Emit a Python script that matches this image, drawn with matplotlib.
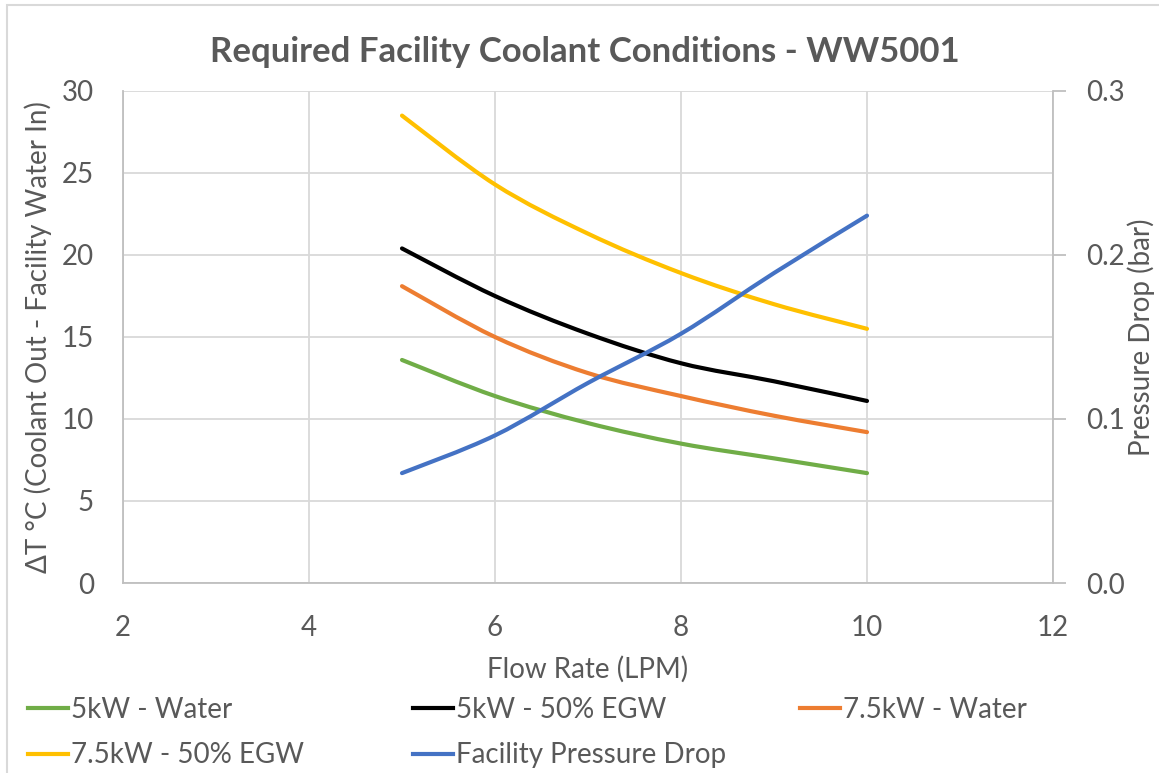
import matplotlib
matplotlib.use('Agg')
import matplotlib.pyplot as plt
import numpy as np
from matplotlib.path import Path
from matplotlib.patches import PathPatch, Rectangle
from matplotlib.lines import Line2D

plt.rcParams['font.family'] = ['Lato', 'DejaVu Sans']

# flow rate (LPM)
flow = [5, 6, 7, 8, 9, 10]

# delta T (degC)
kw5_water = [13.6, 11.4, 9.75, 8.5, 7.6, 6.7]
kw5_egw = [20.4, 17.5, 15.2, 13.4, 12.3, 11.1]
kw75_water = [18.1, 15.0, 12.8, 11.4, 10.2, 9.2]
kw75_egw = [28.5, 24.3, 21.3, 18.9, 17.0, 15.5]

# pressure drop (bar)
press_drop = [0.067, 0.090, 0.122, 0.152, 0.189, 0.224]

labels = ['5kW - Water', '5kW - 50% EGW', '7.5kW - Water',
          '7.5kW - 50% EGW', 'Facility Pressure Drop']
colors = ['#70AD47', '#000000', '#ED7D31', '#FFC000', '#4472C4']

TXT = '#595959'
GRID = '#d9d9d9'
FS = 20


def smooth_path(x, y):
    # excel style smoothed line: catmull-rom turned into cubic bezier
    p = np.column_stack([x, y]).astype(float)
    pts = [p[0]]
    codes = [Path.MOVETO]
    n = len(p)
    for i in range(n - 1):
        p0 = p[i - 1] if i > 0 else p[i]
        p3 = p[i + 2] if i + 2 < n else p[i + 1]
        c1 = p[i] + (p[i + 1] - p0) / 6.0
        c2 = p[i + 1] - (p3 - p[i]) / 6.0
        pts += [c1, c2, p[i + 1]]
        codes += [Path.CURVE4] * 3
    return Path(pts, codes)


fig = plt.figure(figsize=(11.59, 7.73), dpi=100)
ax = fig.add_axes([123 / 1159, 1 - 583 / 773, 930 / 1159, 492 / 773])
ax2 = ax.twinx()

lw = 3.0
for ys, c in zip([kw5_water, kw5_egw, kw75_water, kw75_egw], colors[:4]):
    ax.add_patch(PathPatch(smooth_path(flow, ys), fc='none', ec=c, lw=lw,
                           capstyle='round', zorder=3))
ax2.add_patch(PathPatch(smooth_path(flow, press_drop), fc='none', ec=colors[4],
                        lw=lw, capstyle='round', zorder=3))

ax.set_xlim(2, 12)
ax.set_ylim(0, 30)
ax2.set_ylim(0, 0.3)
ax.set_xticks(np.arange(2, 13, 2))
ax.set_yticks(np.arange(0, 31, 5))
ax2.set_yticks([0, 0.1, 0.2, 0.3])
ax2.set_yticklabels(['0.0', '0.1', '0.2', '0.3'])

ax.grid(True, color=GRID, lw=1.3)
ax.set_axisbelow(True)
for a in (ax, ax2):
    for s in a.spines.values():
        s.set_visible(False)
ax.spines['left'].set_visible(True)
ax.spines['left'].set_color('#bfbfbf')
ax.spines['bottom'].set_visible(True)
ax.spines['bottom'].set_color('#bfbfbf')
ax2.spines['right'].set_visible(True)
ax2.spines['right'].set_color('#bfbfbf')
for s in (ax.spines['left'], ax.spines['bottom'], ax2.spines['right']):
    s.set_linewidth(1.3)

ax.tick_params(axis='both', length=0, labelsize=FS, labelcolor=TXT)
ax.tick_params(axis='y', pad=21)
ax.tick_params(axis='x', pad=23)
ax2.tick_params(axis='y', length=9, width=1.3, color='#bfbfbf', labelsize=FS,
                labelcolor=TXT, pad=15)

ax.set_xlabel('Flow Rate (LPM)', fontsize=FS, color=TXT, labelpad=11)
ax.set_ylabel('ΔT °C (Coolant Out - Facility Water In)', fontsize=FS,
              color=TXT, labelpad=7)
ax2.set_ylabel('Pressure Drop (bar)', fontsize=FS, color=TXT, labelpad=2)

fig.text(585 / 1159, 1 - 52 / 773, 'Required Facility Coolant Conditions - WW5001',
         ha='center', va='center', fontsize=25, fontweight='bold', color=TXT)

# legend, three columns placed like the original
handles = [Line2D([], [], color=c, lw=lw) for c in colors]
cols = [([0, 3], 28), ([1, 4], 413), ([2], 800)]
for idx, xpx in cols:
    fig.legend([handles[i] for i in idx], [labels[i] for i in idx],
               loc='upper left', bbox_to_anchor=(xpx / 1159, 1 - 697 / 773),
               frameon=False, fontsize=FS, labelcolor=TXT, handlelength=1.45,
               handletextpad=0.1, labelspacing=0.7, borderaxespad=0,
               borderpad=0)

# chart area border
fig.add_artist(Rectangle((7 / 1159, -0.01), 1.1, 1 - 5 / 773 + 0.01,
                         transform=fig.transFigure, fc='none', ec='#d9d9d9',
                         lw=1.5))

fig.savefig('out.png', dpi=100)
